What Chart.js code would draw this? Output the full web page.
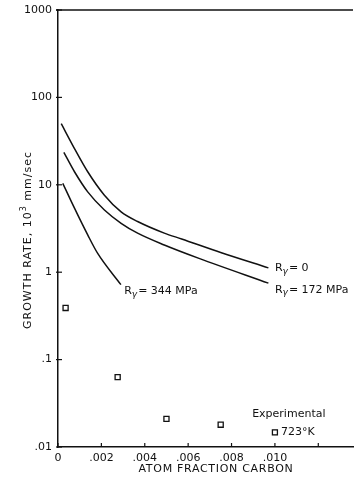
<!DOCTYPE html>
<html>
<head>
<meta charset="utf-8">
<script src="https://cdn.jsdelivr.net/npm/chart.js@4/dist/chart.umd.min.js"></script>
<style>
html,body{margin:0;padding:0;background:#fff;}
#wrap{width:354px;height:478px;position:relative;}
</style>
</head>
<body>
<div id="wrap"><canvas id="c" width="354" height="478"></canvas></div>
<script>
// ---- data ----
const r0X = [0.00015, 0.00076, 0.00137, 0.00214, 0.00291, 0.00367, 0.0049, 0.0057, 0.0075, 0.0097];
const r0Y = [50, 26, 14.1, 7.6, 4.9, 3.8, 2.8, 2.4, 1.68, 1.12];
const r172X = [0.00027, 0.00076, 0.00137, 0.00214, 0.00291, 0.00367, 0.0049, 0.0065, 0.0097];
const r172Y = [23.5, 14.1, 8.3, 5.15, 3.63, 2.8, 2.05, 1.44, 0.75];
const r344X = [0.00022, 0.00076, 0.00137, 0.00183, 0.0029];
const r344Y = [10.4, 5.4, 2.67, 1.64, 0.72];
const expX = [0.00035, 0.00275, 0.0050, 0.0075];
const expY = [0.39, 0.063, 0.021, 0.018];
const xTicks = [0, 0.002, 0.004, 0.006, 0.008, 0.010, 0.012];
const xTickLabels = ['0', '.002', '.004', '.006', '.008', '.010', ''];
const yTicks = [0.01, 0.1, 1, 10, 100, 1000];
const yTickLabels = ['.01', '.1', '1', '10', '100', '1000'];
const seriesNames = ['0', '172 MPa', '344 MPa'];
const expLegend = ['Experimental', '723°K'];
const xTitle = 'ATOM FRACTION CARBON';
const yTitleParts = ['GROWTH RATE, 10', '3', ' mm/sec'];

const pts = (xs, ys) => xs.map((x, i) => ({x: x, y: ys[i]}));
const FONT = '"DejaVu Sans", sans-serif';

function drawRLabel(ctx, x, y, rest) {
  ctx.save();
  ctx.fillStyle = '#111';
  ctx.textBaseline = 'middle';
  ctx.textAlign = 'left';
  ctx.font = '11px ' + FONT;
  ctx.fillText('R', x, y);
  let w = ctx.measureText('R').width;
  ctx.font = 'italic 9px ' + FONT;
  ctx.fillText('γ', x + w, y + 3);
  w += ctx.measureText('γ').width + 1;
  ctx.font = '11px ' + FONT;
  ctx.fillText('= ' + rest, x + w, y);
  ctx.restore();
}

const deco = {
  id: 'deco',
  afterDraw(chart) {
    const ctx = chart.ctx, a = chart.chartArea;
    const xs = chart.scales.x, ys = chart.scales.y;
    ctx.save();
    ctx.strokeStyle = '#111';
    ctx.lineWidth = 1.5;
    // top line
    ctx.beginPath();
    ctx.moveTo(a.left - 2, a.top);
    ctx.lineTo(a.right, a.top);
    ctx.stroke();
    // ticks
    ctx.lineWidth = 1.2;
    xs.ticks.forEach(t => {
      const px = xs.getPixelForValue(t.value);
      ctx.beginPath();
      ctx.moveTo(px, a.bottom);
      ctx.lineTo(px, a.bottom - 4);
      ctx.stroke();
    });
    ys.ticks.forEach(t => {
      const py = ys.getPixelForValue(t.value);
      ctx.beginPath();
      ctx.moveTo(a.left - 2, py);
      ctx.lineTo(a.left + 4, py);
      ctx.stroke();
    });
    // curve labels
    drawRLabel(ctx, xs.getPixelForValue(0.01), ys.getPixelForValue(1.1), seriesNames[0]);
    drawRLabel(ctx, xs.getPixelForValue(0.01), ys.getPixelForValue(0.63), seriesNames[1]);
    drawRLabel(ctx, xs.getPixelForValue(0.00305), ys.getPixelForValue(0.6), seriesNames[2]);
    // experimental legend
    ctx.fillStyle = '#111';
    ctx.font = '11px ' + FONT;
    ctx.textBaseline = 'middle';
    ctx.textAlign = 'left';
    const lx = xs.getPixelForValue(0.0100), ly = ys.getPixelForValue(0.0147);
    ctx.fillText(expLegend[0], xs.getPixelForValue(0.00895), ys.getPixelForValue(0.0235));
    ctx.lineWidth = 1.3;
    ctx.strokeRect(lx - 2.5, ly - 2.5, 5, 5);
    ctx.fillText(expLegend[1], lx + 6, ly);
    // x title
    ctx.font = '11px ' + FONT;
    ctx.letterSpacing = '0.7px';
    ctx.textAlign = 'center';
    ctx.fillText(xTitle, 216, 469);
    // y title (rotated)
    ctx.letterSpacing = '1px';
    ctx.translate(28, 240);
    ctx.rotate(-Math.PI / 2);
    ctx.font = '11px ' + FONT;
    const w1 = ctx.measureText(yTitleParts[0]).width;
    ctx.font = '8px ' + FONT;
    const w2 = ctx.measureText(yTitleParts[1]).width;
    ctx.font = '11px ' + FONT;
    const w3 = ctx.measureText(yTitleParts[2]).width;
    let sx = -(w1 + w2 + w3) / 2;
    ctx.textAlign = 'left';
    ctx.fillText(yTitleParts[0], sx, 0);
    ctx.font = '8px ' + FONT;
    ctx.fillText(yTitleParts[1], sx + w1, -4);
    ctx.font = '11px ' + FONT;
    ctx.fillText(yTitleParts[2], sx + w1 + w2, 0);
    ctx.restore();
  }
};

const lineDs = (xs, ys) => ({
  type: 'line',
  data: pts(xs, ys),
  borderColor: '#111',
  borderWidth: 1.5,
  pointRadius: 0,
  fill: false,
  cubicInterpolationMode: 'monotone'
});

new Chart(document.getElementById('c'), {
  type: 'scatter',
  data: {
    datasets: [
      lineDs(r0X, r0Y),
      lineDs(r172X, r172Y),
      lineDs(r344X, r344Y),
      {
        type: 'scatter',
        data: pts(expX, expY),
        pointStyle: 'rect',
        pointRadius: 3.6,
        borderColor: '#111',
        borderWidth: 1.3,
        backgroundColor: '#fff'
      }
    ]
  },
  options: {
    responsive: false,
    animation: false,
    layout: {autoPadding: false, padding: {top: 10, right: 1, left: 0, bottom: 0}},
    plugins: {legend: {display: false}, tooltip: {enabled: false}},
    scales: {
      x: {
        type: 'linear',
        min: 0,
        max: 0.0136,
        afterBuildTicks: s => { s.ticks = xTicks.map(v => ({value: v})); },
        afterFit: s => { s.height = 31; s.paddingLeft = 0; s.paddingRight = 0; },
        grid: {display: false, drawTicks: false},
        border: {display: true, color: '#111', width: 1.5},
        ticks: {
          padding: 5,
          color: '#111',
          font: {family: FONT, size: 11},
          maxRotation: 0,
          autoSkip: false,
          callback: (v, i) => xTickLabels[i]
        }
      },
      y: {
        type: 'logarithmic',
        min: 0.01,
        max: 1000,
        afterBuildTicks: s => { s.ticks = yTicks.map(v => ({value: v})); },
        afterFit: s => { s.width = 58; s.paddingTop = 0; s.paddingBottom = 0; },
        grid: {display: false, drawTicks: false},
        border: {display: true, color: '#111', width: 1.5},
        ticks: {
          padding: 6,
          color: '#111',
          font: {family: FONT, size: 11},
          autoSkip: false,
          callback: (v, i) => yTickLabels[i]
        }
      }
    }
  },
  plugins: [deco]
});
</script>
</body>
</html>
